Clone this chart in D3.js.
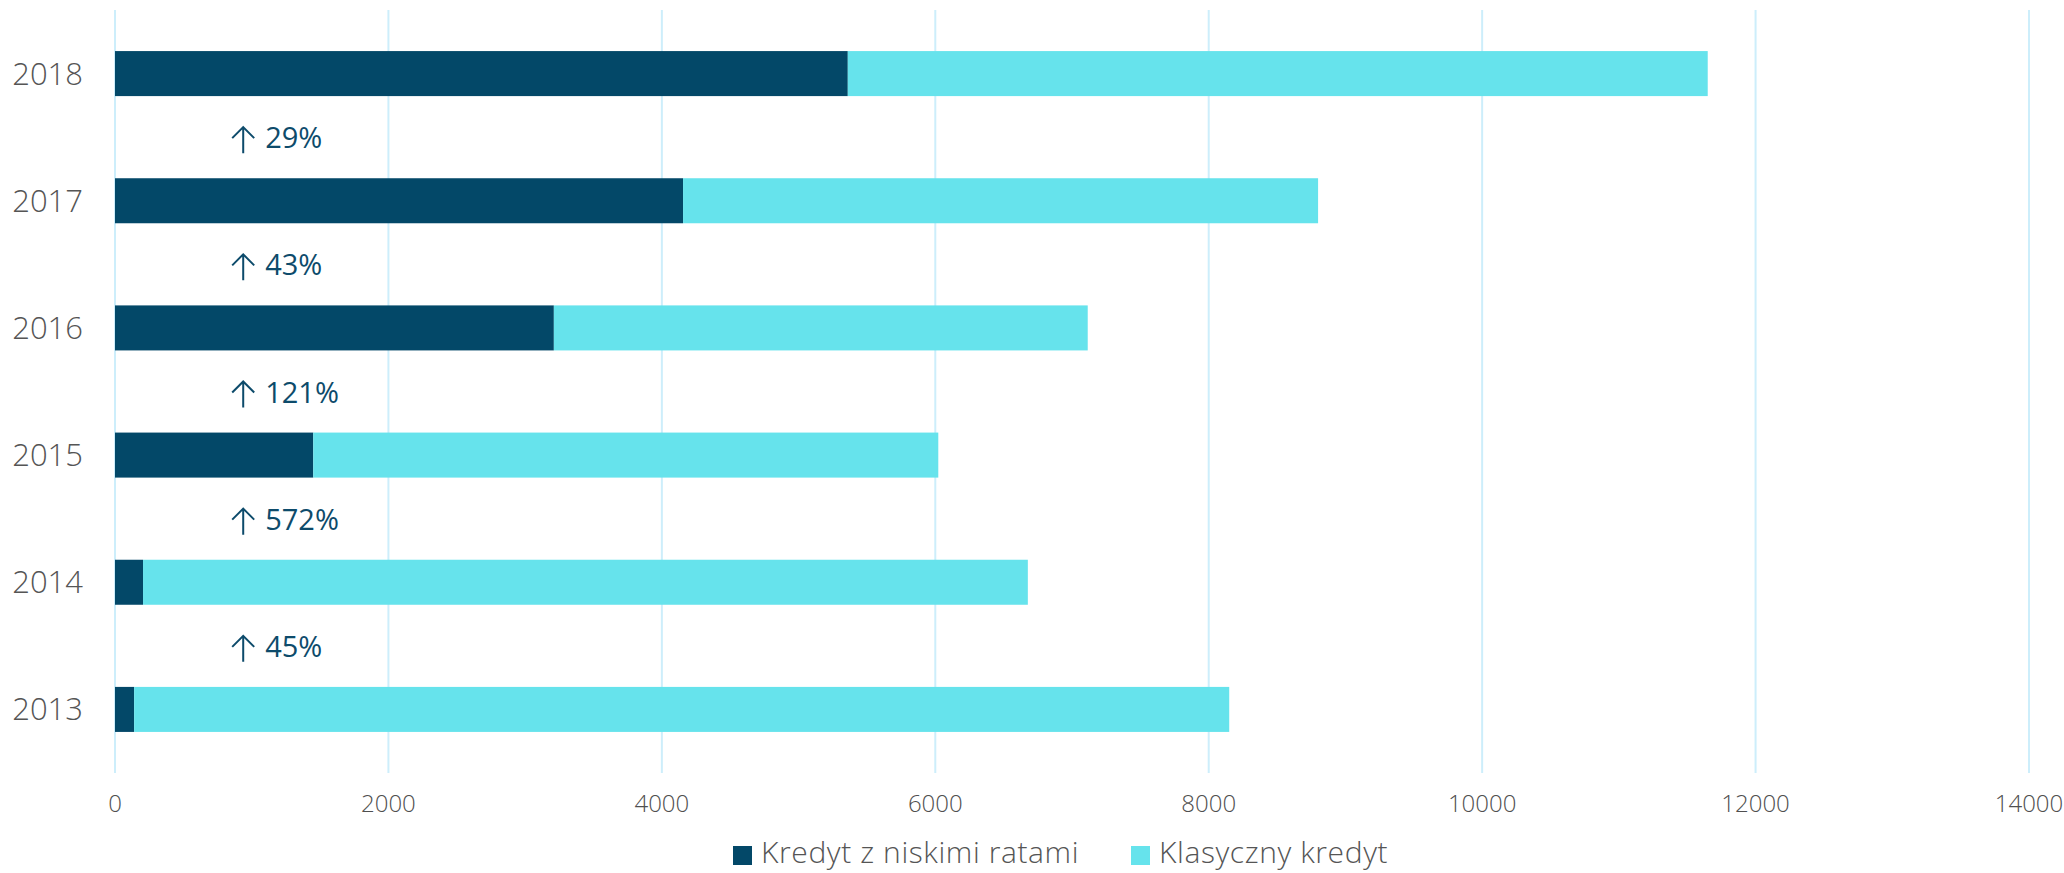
<!DOCTYPE html>
<html>
<head>
<meta charset="utf-8">
<script src="https://cdn.jsdelivr.net/npm/d3@7"></script>
<style>
  body { margin: 0; background: #fff; }
  text { font-family: "Open Sans", "Noto Sans", sans-serif; }
</style>
</head>
<body>
<script>
// data
const years = ['2018', '2017', '2016', '2015', '2014', '2013'];
const lowRate = [5360, 4155, 3210, 1450, 205, 140];      // Kredyt z niskimi ratami
const classic = [6290, 4645, 3905, 4572, 6472, 8010];    // Klasyczny kredyt (stacked on top)
const growth = ['29%', '43%', '121%', '572%', '45%'];
const xTicks = [0, 2000, 4000, 6000, 8000, 10000, 12000, 14000];
const seriesNames = ['Kredyt z niskimi ratami', 'Klasyczny kredyt'];
const colors = ['#034868', '#66e3ec'];

const width = 2064, height = 873;

const svg = d3.select('body').append('svg')
    .attr('width', width)
    .attr('height', height);

const x = d3.scaleLinear().domain([0, 14000]).range([115, 2029]);
const y = d3.scaleBand().domain(years).range([10, 773])
    .paddingInner(0.646).paddingOuter(0.323);

// grid lines
svg.append('g').selectAll('line').data(xTicks).enter()
    .append('line')
    .attr('x1', d => x(d)).attr('x2', d => x(d))
    .attr('y1', 10).attr('y2', 773)
    .style('stroke', '#cdeefb').style('stroke-width', 2);

// x tick labels
svg.append('g').selectAll('text').data(xTicks).enter()
    .append('text')
    .attr('x', d => x(d))
    .attr('y', 812)
    .attr('text-anchor', 'middle')
    .style('font-size', '24px')
    .style('font-weight', 300)
    .style('fill', '#4f4f4f')
    .text(d => d);

// y labels
svg.append('g').selectAll('text').data(years).enter()
    .append('text')
    .attr('x', 83)
    .attr('y', d => y(d) + y.bandwidth() / 2 + 11)
    .attr('text-anchor', 'end')
    .style('font-size', '31px')
    .style('font-weight', 300)
    .style('fill', '#555')
    .text(d => d);

// stacked bars
const rows = years.map((yr, i) => ({ year: yr, low: lowRate[i], classic: classic[i] }));
const stack = d3.stack().keys(['low', 'classic'])(rows);

svg.append('g').selectAll('g').data(stack).enter()
    .append('g')
    .style('fill', (d, i) => colors[i])
    .selectAll('rect').data(d => d).enter()
    .append('rect')
    .attr('x', d => x(d[0]))
    .attr('y', d => y(d.data.year))
    .attr('width', d => x(d[1]) - x(d[0]))
    .attr('height', y.bandwidth());

// growth labels between bars: thin arrow + percentage
const labelX = x(850);
const gLabels = svg.append('g').selectAll('g').data(growth).enter()
    .append('g')
    .attr('transform', (d, i) => {
        const base = (y(years[i]) + y(years[i + 1])) / 2 + y.bandwidth() / 2 + 11;
        return 'translate(' + labelX + ',' + base + ')';
    });
gLabels.append('path')
    .attr('d', 'M12,-21 L12,5 M1,-10 L12,-21 L23,-10')
    .style('fill', 'none')
    .style('stroke', '#0d4b6b')
    .style('stroke-width', 2);
gLabels.append('text')
    .attr('x', 34)
    .style('font-size', '29px')
    .style('fill', '#0d4b6b')
    .text(d => d);

// legend
const legendX = [733, 1131];
const legend = svg.append('g').selectAll('g').data(seriesNames).enter()
    .append('g')
    .attr('transform', (d, i) => 'translate(' + legendX[i] + ',846)');
legend.append('rect')
    .attr('width', 19).attr('height', 19)
    .style('fill', (d, i) => colors[i]);
legend.append('text')
    .attr('x', 28).attr('y', 17)
    .style('font-size', '30px')
    .style('font-weight', 300)
    .style('letter-spacing', '0.6px')
    .style('fill', '#555')
    .text(d => d);
</script>
</body>
</html>
